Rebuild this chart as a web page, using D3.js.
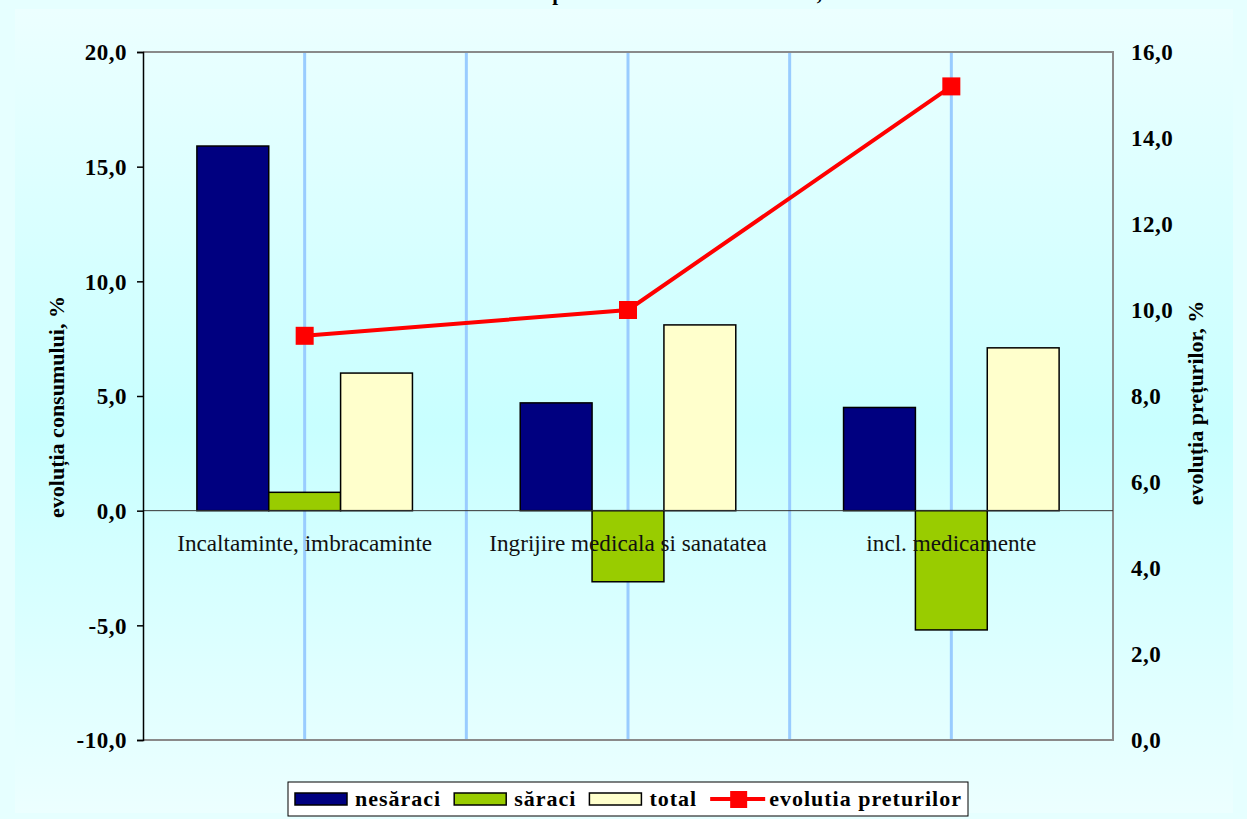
<!DOCTYPE html>
<html><head><meta charset="utf-8">
<script src="https://cdn.jsdelivr.net/npm/d3@7"></script>
<style>
html,body{margin:0;padding:0;background:#e6ffff;}
svg{display:block;}
</style></head>
<body>
<svg id="chart" width="1247" height="819"></svg>
<script>
const categories = ["Incaltaminte, imbracaminte", "Ingrijire medicala si sanatatea", "incl. medicamente"];
const seriesNames = ["nesăraci", "săraci", "total"];
const seriesColors = ["#000080", "#99cc00", "#ffffcc"];
const nesaraci = [15.9, 4.7, 4.5];
const saraci = [0.8, -3.1, -5.2];
const total = [6.0, 8.1, 7.1];
const lineName = "evolutia preturilor";
const preturi = [9.4, 10.0, 15.2];
const leftTicks = [-10, -5, 0, 5, 10, 15, 20];
const rightTicks = [0, 2, 4, 6, 8, 10, 12, 14, 16];
const leftTitle = "evoluția consumului, %";
const rightTitle = "evoluția prețurilor, %";
const chartTitle = "Evolutia consumului si a preturilor la servicii medicale, 2006";

const seriesValues = [nesaraci, saraci, total];
const W = 1247, H = 819;
const L = 143, R = 1113, T = 52, B = 740;
const svg = d3.select("#chart");
const fmt = v => d3.format(".1f")(v).replace(".", ",").replace("−", "-");

// background gradient
const defs = svg.append("defs");
const g1 = defs.append("linearGradient").attr("id", "bg").attr("x1", 0).attr("y1", 0).attr("x2", 0).attr("y2", 1);
g1.append("stop").attr("offset", "0%").attr("stop-color", "#ecffff");
g1.append("stop").attr("offset", "52%").attr("stop-color", "#c8ffff");
g1.append("stop").attr("offset", "100%").attr("stop-color", "#ecffff");
svg.append("rect").attr("x", 0).attr("y", 0).attr("width", W).attr("height", H).attr("fill", "#e6ffff");
svg.append("rect").attr("x", 15).attr("y", 9).attr("width", 1218).attr("height", 804).attr("fill", "url(#bg)");

// title (mostly above the visible area, as in the reference)
svg.append("text").attr("x", 327).attr("y", 0).attr("font-family", "Liberation Serif")
  .attr("font-weight", "bold").attr("font-size", 21).attr("fill", "#000").text(chartTitle);

// scales
const x0 = d3.scaleBand().domain(categories).range([L, R]).padding(0);
const bw = x0.bandwidth();
const barW = bw / 4.5;
const x1 = d3.scaleBand().domain(seriesNames).range([0.75 * barW, 3.75 * barW]).padding(0);
const yL = d3.scaleLinear().domain([-10, 20]).range([B, T]);
const yR = d3.scaleLinear().domain([0, 16]).range([B, T]);

// vertical grid lines (category centers and boundaries)
const gridX = [];
categories.forEach((c, i) => {
  gridX.push(x0(c) + bw / 2);
  if (i < categories.length - 1) gridX.push(x0(c) + bw);
});
svg.append("g").selectAll("line").data(gridX).join("line")
  .attr("x1", d => d).attr("x2", d => d).attr("y1", T).attr("y2", B)
  .attr("stroke", "#99ccff").attr("stroke-width", 3);

// plot border (top, right, bottom)
svg.append("path").attr("d", `M${L},${T}H${R}V${B}H${L}`).attr("fill", "none")
  .attr("stroke", "#8a8a8a").attr("stroke-width", 2);

// bars
const barG = svg.append("g");
categories.forEach((c, ci) => {
  seriesNames.forEach((s, si) => {
    const v = seriesValues[si][ci];
    barG.append("rect")
      .attr("x", x0(c) + x1(s)).attr("width", x1.bandwidth())
      .attr("y", yL(Math.max(0, v))).attr("height", Math.abs(yL(v) - yL(0)))
      .attr("fill", seriesColors[si]).attr("stroke", "#000").attr("stroke-width", 1.5);
  });
});

// zero line
svg.append("line").attr("x1", L).attr("x2", R).attr("y1", yL(0)).attr("y2", yL(0))
  .attr("stroke", "#333").attr("stroke-width", 1);

// category labels
svg.append("g").selectAll("text").data(categories).join("text")
  .attr("x", d => x0(d) + bw / 2).attr("y", yL(0) + 40)
  .attr("text-anchor", "middle").attr("font-family", "Liberation Serif")
  .attr("font-size", 23.2).attr("fill", "#111").text(d => d);

// left axis
const axL = svg.append("g").attr("transform", `translate(${L},0)`)
  .call(d3.axisLeft(yL).tickValues(leftTicks).tickFormat(fmt).tickSize(6).tickPadding(10));
axL.select(".domain").attr("stroke", "#000").attr("stroke-width", 1.5);
axL.selectAll(".tick line").attr("stroke", "#000").attr("stroke-width", 1.5);
axL.selectAll("text").attr("font-family", "Liberation Serif").attr("font-weight", "bold")
  .attr("font-size", 23).attr("letter-spacing", 0.5).attr("fill", "#000").attr("dy", "0.34em");

// right axis
const axR = svg.append("g").attr("transform", `translate(${R},0)`)
  .call(d3.axisRight(yR).tickValues(rightTicks).tickFormat(fmt).tickSize(0).tickPadding(18));
axR.select(".domain").remove();
axR.selectAll("text").attr("font-family", "Liberation Serif").attr("font-weight", "bold")
  .attr("font-size", 23).attr("letter-spacing", 0.5).attr("fill", "#000").attr("dy", "0.34em");

// axis titles
svg.append("text").attr("transform", `translate(64,407) rotate(-90)`)
  .attr("text-anchor", "middle").attr("font-family", "Liberation Serif").attr("font-weight", "bold")
  .attr("font-size", 22).attr("fill", "#000").text(leftTitle);
svg.append("text").attr("transform", `translate(1203,403) rotate(-90)`)
  .attr("text-anchor", "middle").attr("font-family", "Liberation Serif").attr("font-weight", "bold")
  .attr("font-size", 22).attr("fill", "#000").text(rightTitle);

// price line
const linePts = categories.map((c, i) => [x0(c) + bw / 2, yR(preturi[i])]);
svg.append("path").attr("d", d3.line()(linePts)).attr("fill", "none")
  .attr("stroke", "#ff0000").attr("stroke-width", 4);
svg.append("g").selectAll("rect").data(linePts).join("rect")
  .attr("x", d => d[0] - 9).attr("y", d => d[1] - 9).attr("width", 18).attr("height", 18)
  .attr("fill", "#ff0000");

// legend
const lg = svg.append("g");
lg.append("rect").attr("x", 288).attr("y", 782).attr("width", 680).attr("height", 34)
  .attr("fill", "#fff").attr("stroke", "#000").attr("stroke-width", 1);
let lx = 295;
const legendItems = seriesNames.map((s, i) => ({name: s, color: seriesColors[i], type: "bar"}))
  .concat([{name: lineName, color: "#ff0000", type: "line"}]);
legendItems.forEach(it => {
  if (it.type === "bar") {
    lg.append("rect").attr("x", lx).attr("y", 793).attr("width", 52).attr("height", 12)
      .attr("fill", it.color).attr("stroke", "#000").attr("stroke-width", 1.5);
    lx += 60;
  } else {
    lg.append("line").attr("x1", lx).attr("x2", lx + 55).attr("y1", 799).attr("y2", 799)
      .attr("stroke", it.color).attr("stroke-width", 4);
    lg.append("rect").attr("x", lx + 20).attr("y", 791).attr("width", 17).attr("height", 17).attr("fill", it.color);
    lx += 59;
  }
  const t = lg.append("text").attr("x", lx).attr("y", 806).attr("font-family", "Liberation Serif")
    .attr("font-weight", "bold").attr("font-size", 22).attr("letter-spacing", 1).attr("fill", "#000").text(it.name);
  lx += t.node().getComputedTextLength() + 13;
});
</script>
</body></html>
